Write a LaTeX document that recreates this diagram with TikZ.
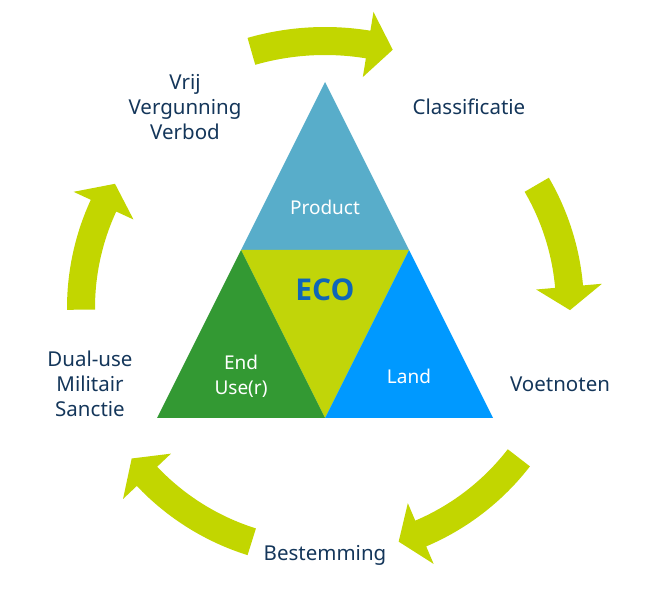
\documentclass[tikz,border=0pt]{standalone}
\usepackage{fontspec}
\setmainfont{Noto Sans}
\newfontfamily\ecofont{Open Sans}
\usetikzlibrary{calc}
\definecolor{cyclelime}{HTML}{C2D600}
\definecolor{ecolime}{HTML}{C1D509}
\definecolor{prodblue}{HTML}{58ADCA}
\definecolor{endgreen}{HTML}{339933}
\definecolor{landblue}{HTML}{0099FF}
\definecolor{ecotext}{HTML}{0F66B8}
\definecolor{navy}{HTML}{14365A}

\begin{document}
\begin{tikzpicture}[x=1pt, y=1pt,
  cyc/.style={fill=cyclelime},
  lbl/.style={font=\fontsize{20.5}{25}\selectfont, text=navy, align=center},
  inlbl/.style={font=\fontsize{19}{25}\selectfont, text=white, align=center}]
  \useasboundingbox (0,0) rectangle (656,592);
  \coordinate (hub) at (325,284);
  % triangle
  \coordinate (apex) at (325,510);
  \coordinate (bl) at (157,174);
  \coordinate (br) at (493,174);
  \coordinate (ml) at ($(apex)!.5!(bl)$);
  \coordinate (mr) at ($(apex)!.5!(br)$);
  \coordinate (mb) at ($(bl)!.5!(br)$);
  \fill[prodblue] (apex) -- (ml) -- (mr) -- cycle;
  \fill[ecolime] (ml) -- (mr) -- (mb) -- cycle;
  \fill[endgreen] (ml) -- (mb) -- (bl) -- cycle;
  \fill[landblue] (mr) -- (br) -- (mb) -- cycle;
  \node[inlbl] (product) at (325,385) {Product};
  \node[font=\ecofont\fontsize{30}{30}\selectfont\bfseries, text=ecotext] (eco) at (325,302) {ECO};
  \node[inlbl] (enduse) at (241,216) {End\\Use(r)};
  \node[inlbl] (land) at (409,216) {Land};
  % cycle arrows: radius / tail / head base / tip
  \foreach \r/\a/\b/\t in {267/106/80.7/75.3, 245/30.2/5/-0.5, 245/-37.7/-67/-72.5,
                           245/-107.4/-136.6/-142.1, 244/180.4/155.2/149.4}{
    \pgfmathsetmacro\ro{\r+14}
    \pgfmathsetmacro\ri{\r-14}
    \pgfmathsetmacro\bo{\r+33}
    \pgfmathsetmacro\bi{\r-33}
    \fill[cyc] ($(hub)+(\a:\ro)$) arc[start angle=\a, end angle=\b, radius=\ro]
      -- ($(hub)+(\b:\bo)$) -- ($(hub)+(\t:\r)$) -- ($(hub)+(\b:\bi)$)
      -- ($(hub)+(\b:\ri)$) arc[start angle=\b, end angle=\a, radius=\ri] -- cycle;
  }
  % outer labels
  \node[lbl] (classif) at (469,485) {Classificatie};
  \node[lbl] (voetnoten) at (560,208) {Voetnoten};
  \node[lbl] (bestemming) at (325,37) {Bestemming};
  \node[lbl] (dualuse) at (90,208) {Dual-use\\Militair\\Sanctie};
  \node[lbl] (vrij) at (185,485) {Vrij\\Vergunning\\Verbod};
\end{tikzpicture}
\end{document}
